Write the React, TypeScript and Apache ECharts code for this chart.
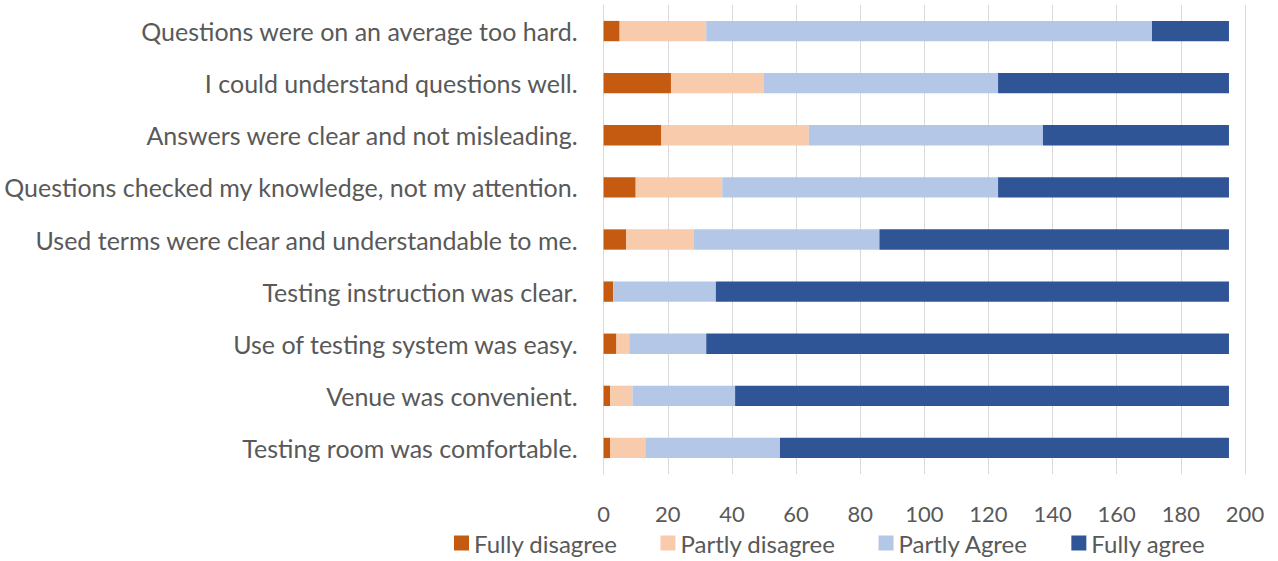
import React, { useEffect, useRef } from "react";
import * as echarts from "echarts";

const categories = [
  "Testing room was comfortable.",
  "Venue was convenient.",
  "Use of testing system was easy.",
  "Testing instruction was clear.",
  "Used terms were clear and understandable to me.",
  "Questions checked my knowledge, not my attention.",
  "Answers were clear and not misleading.",
  "I could understand questions well.",
  "Questions were on an average too hard.",
];

const fullyDisagree = [2, 2, 4, 3, 7, 10, 18, 21, 5];
const partlyDisagree = [11, 7, 4, 0, 21, 27, 46, 29, 27];
const partlyAgree = [42, 32, 24, 32, 58, 86, 73, 73, 139];
const fullyAgree = [140, 154, 163, 160, 109, 72, 58, 72, 24];

const xTicks = [0, 200, 20];

const seriesNames = ["Fully disagree", "Partly disagree", "Partly Agree", "Fully agree"];
const colors = ["#c55a11", "#f8cbad", "#b4c7e7", "#2f5597"];

export default function App() {
  const ref = useRef<HTMLDivElement>(null);
  useEffect(() => {
    if (!ref.current) return;
    const chart = echarts.init(ref.current, null, { renderer: "svg" });
    const data = [fullyDisagree, partlyDisagree, partlyAgree, fullyAgree];
    const font = "Lato, 'Noto Sans', sans-serif";
    chart.setOption({
      animation: false,
      textStyle: { fontFamily: font },
      grid: { left: 602, right: 33, top: 5, height: 469, containLabel: false },
      legend: {
        data: seriesNames,
        top: 529,
        left: 454,
        padding: 0,
        itemWidth: 15,
        itemHeight: 15,
        itemGap: 43,
        icon: "rect",
        textStyle: { fontSize: 24, lineHeight: 28, color: "#595959", fontFamily: font },
      },
      xAxis: {
        type: "value",
        min: xTicks[0],
        max: xTicks[1],
        interval: xTicks[2],
        axisLine: { show: false },
        axisTick: { show: false },
        splitLine: { show: true, lineStyle: { color: "#d9d9d9", width: 1 } },
        axisLabel: { fontSize: 22, color: "#595959", margin: 28, fontFamily: font },
      },
      yAxis: {
        type: "category",
        data: categories,
        axisLine: { show: true, lineStyle: { color: "#d9d9d9" } },
        axisTick: { show: false },
        axisLabel: { fontSize: 25, color: "#595959", margin: 26, fontFamily: font },
      },
      series: seriesNames.map((name, i) => ({
        name,
        type: "bar",
        stack: "total",
        barWidth: "39%",
        data: data[i],
        itemStyle: { color: colors[i] },
      })),
    });
    return () => chart.dispose();
  }, []);
  return (
    <div
      ref={ref}
      style={{ position: "absolute", left: 0, top: 0, width: 1278, height: 561, background: "#fff" }}
    />
  );
}
